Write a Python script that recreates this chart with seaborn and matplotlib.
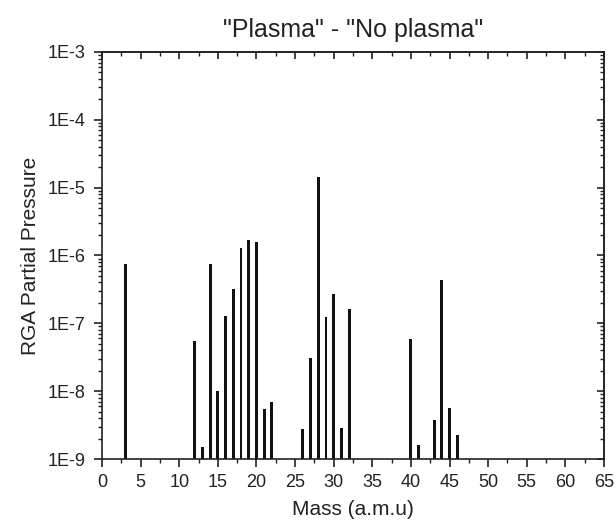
import matplotlib
matplotlib.use("Agg")
import matplotlib.pyplot as plt
import matplotlib.ticker as mticker
import pandas as pd
import seaborn as sns

# mass numbers and difference of partial pressures (plasma - no plasma)
mass = [3, 12, 13, 14, 15, 16, 17, 18, 19, 20, 21, 22,
        26, 27, 28, 29, 30, 31, 32, 40, 41, 43, 44, 45, 46]
pressure = [7.4e-7, 5.4e-8, 1.5e-9, 7.4e-7, 1.0e-8, 1.28e-7, 3.2e-7, 1.29e-6,
            1.7e-6, 1.6e-6, 5.5e-9, 7.0e-9, 2.8e-9, 3.1e-8, 1.46e-5, 1.23e-7,
            2.75e-7, 2.9e-9, 1.65e-7, 5.8e-8, 1.63e-9, 3.7e-9, 4.3e-7,
            5.7e-9, 2.24e-9]
x_ticks = list(range(0, 70, 5))
y_ticks = [1e-9, 1e-8, 1e-7, 1e-6, 1e-5, 1e-4, 1e-3]
y_labels = ["1E-9", "1E-8", "1E-7", "1E-6", "1E-5", "1E-4", "1E-3"]

df = pd.DataFrame({"mass": mass, "pressure": pressure})

sns.set_style("ticks")
plt.rcParams["font.family"] = ["Liberation Sans", "DejaVu Sans"]

fig = plt.figure(figsize=(6.16, 5.21), dpi=100)
ax = fig.add_axes([0.1656, 0.119, 0.8149, 0.7812])

ax.set_yscale("log")
sns.barplot(data=df, x="mass", y="pressure", native_scale=True, width=0.38,
            color="#111111", edgecolor="#111111", linewidth=0, ax=ax)

ax.set_xlim(0, 65)
ax.set_ylim(1e-9, 1e-3)
ax.set_xticks(x_ticks)
ax.set_xticklabels([str(t) for t in x_ticks])
ax.xaxis.set_minor_locator(mticker.MultipleLocator(2.5))
ax.set_yticks(y_ticks)
ax.set_yticklabels(y_labels)
ax.yaxis.set_minor_locator(mticker.LogLocator(base=10, subs=range(2, 10), numticks=20))
ax.yaxis.set_minor_formatter(mticker.NullFormatter())

for s in ax.spines.values():
    s.set_linewidth(1.2)
    s.set_color("#222222")

ax.tick_params(which="major", direction="out", length=6, width=1.2, labelsize=13, colors="#222222")
ax.tick_params(which="minor", direction="out", length=3, width=1.0, colors="#222222")
ax.tick_params(axis="x", which="major", pad=5)
ax.tick_params(axis="y", which="major", pad=6)

# mirrored ticks on top and right, pointing in
top = ax.secondary_xaxis("top")
top.set_xticks(x_ticks)
top.xaxis.set_minor_locator(mticker.MultipleLocator(2.5))
top.tick_params(which="major", direction="in", length=5, width=1.2, labeltop=False, colors="#222222")
top.tick_params(which="minor", direction="in", length=3, width=1.0, colors="#222222")
right = ax.secondary_yaxis("right")
right.set_yticks(y_ticks)
right.yaxis.set_minor_locator(mticker.LogLocator(base=10, subs=range(2, 10), numticks=20))
right.yaxis.set_minor_formatter(mticker.NullFormatter())
right.tick_params(which="major", direction="in", length=5, width=1.2, labelright=False, colors="#222222")
right.tick_params(which="minor", direction="in", length=3, width=1.0, colors="#222222")
for a in (top, right):
    for s in a.spines.values():
        s.set_linewidth(1.2)
        s.set_color("#222222")

ax.set_xlabel("Mass (a.m.u)", fontsize=15, labelpad=6, color="#222222")
ax.set_ylabel("RGA Partial Pressure", fontsize=15, labelpad=5, color="#222222")
ax.set_title('"Plasma" - "No plasma"', fontsize=18, pad=11, color="#222222")

fig.savefig("out.png", dpi=100)
